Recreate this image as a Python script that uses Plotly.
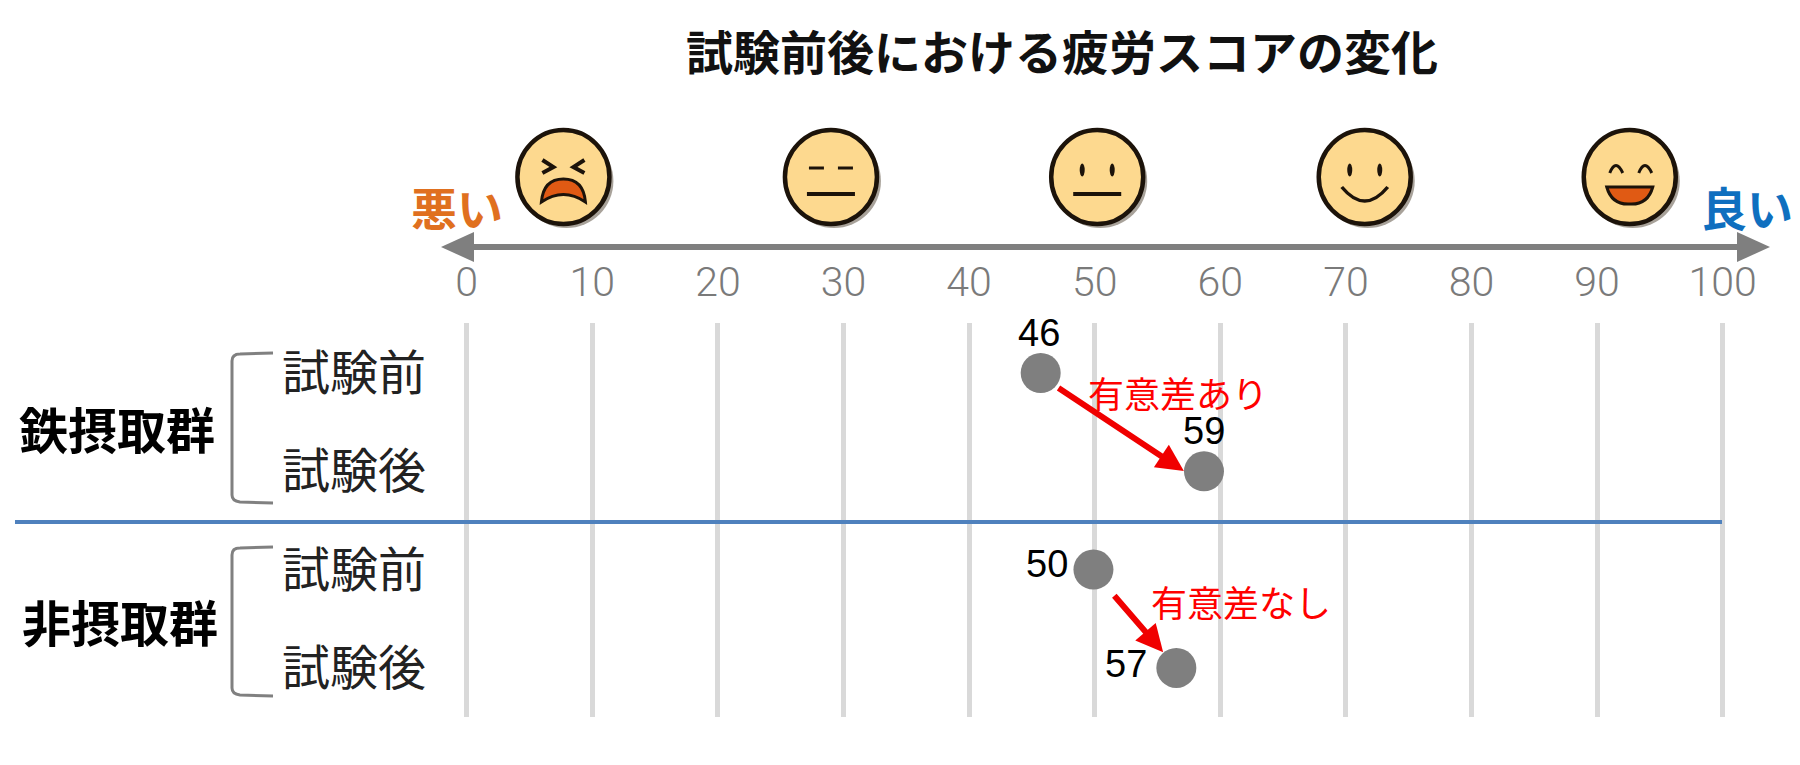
import plotly.graph_objects as go

W, H = 1800, 765
CJK = "Noto Sans CJK JP"

# ---- data ----
title = "試験前後における疲労スコアの変化"
tick_values = [0, 10, 20, 30, 40, 50, 60, 70, 80, 90, 100]
row_labels = ["試験前", "試験後", "試験前", "試験後"]
rows = [0, 1, 2, 3]
scores = [45.7, 58.7, 49.9, 56.5]
score_labels = ["46", "59", "50", "57"]
group_labels = ["鉄摂取群", "非摂取群"]
group_rows = [0.55, 2.52]
sig_labels = ["有意差あり", "有意差なし"]
face_scores = [7.7, 29.0, 50.2, 71.5, 92.6]
face_kinds = ["pain", "flat", "neutral", "smile", "grin"]

# ---- layout geometry ----
X0, PPU = 466.7, 12.56      # pixel of score 0, pixels per score unit
Y0, PPR = 373.0, 98.3       # pixel of row 0, pixels per row
PLOT_TOP, PLOT_BOTTOM = 323, 717
label_offsets = [(-2, 40), (0, 40), (-46, 6), (-50, 4)]


def px_x(v):
    return X0 + v * PPU


def PX(x):
    return x / W


def PY(y):
    return 1 - y / H


def P(x, y):
    return f"{PX(x):.5f},{PY(y):.5f}"


shapes = []


def path(d, fill=None, line=None, width=0):
    shapes.append(dict(type="path", xref="paper", yref="paper", path=d,
                       fillcolor=fill or "rgba(0,0,0,0)",
                       line=dict(color=line or "rgba(0,0,0,0)", width=width)))


def seg(cx, cy, pts, close=False):
    d = "M " + " L ".join(P(cx + a, cy + b) for a, b in pts)
    return d + (" Z" if close else "")


def curve(cx, cy, a, c, b):
    return f"M {P(cx+a[0], cy+a[1])} Q {P(cx+c[0], cy+c[1])} {P(cx+b[0], cy+b[1])}"


def ellipse(cx, cy, rx, ry, fill, line=None, width=0):
    shapes.append(dict(type="circle", xref="paper", yref="paper",
                       x0=PX(cx - rx), x1=PX(cx + rx), y0=PY(cy + ry), y1=PY(cy - ry),
                       fillcolor=fill,
                       line=dict(color=line or "rgba(0,0,0,0)", width=width)))


INK = "#1c130a"
SKIN = "#FDD98F"
ORANGE = "#E05A14"


def face(score, kind):
    cx, cy = px_x(score), 177
    ellipse(cx + 3, cy + 4, 47, 47, "#a8a29a")
    ellipse(cx, cy, 46, 47, SKIN, INK, 4.5)
    if kind == "pain":
        path(seg(cx, cy, [(-21, -17), (-10, -10), (-21, -4)]), line=INK, width=4)
        path(seg(cx, cy, [(21, -17), (10, -10), (21, -4)]), line=INK, width=4)
        d = (f"M {P(cx-22, cy+25)} Q {P(cx-20, cy+2)} {P(cx, cy+2)} "
             f"Q {P(cx+20, cy+2)} {P(cx+22, cy+25)} Q {P(cx, cy+10)} {P(cx-22, cy+25)} Z")
        path(d, fill=ORANGE, line=INK, width=3)
    elif kind == "flat":
        path(seg(cx, cy, [(-22, -9), (-7, -9)]), line=INK, width=3)
        path(seg(cx, cy, [(7, -9), (22, -9)]), line=INK, width=3)
        path(seg(cx, cy, [(-24, 17), (24, 17)]), line=INK, width=4)
    elif kind in ("neutral", "smile"):
        ellipse(cx - 15, cy - 7, 2.5, 6.5, INK)
        ellipse(cx + 15, cy - 7, 2.5, 6.5, INK)
        if kind == "neutral":
            path(seg(cx, cy, [(-24, 17), (24, 17)]), line=INK, width=4)
        else:
            path(curve(cx, cy, (-23, 10), (0, 38), (23, 10)), line=INK, width=3.5)
    else:
        path(curve(cx, cy, (-20, -4), (-14, -19), (-7, -4)), line=INK, width=3)
        path(curve(cx, cy, (9, -4), (15, -19), (22, -4)), line=INK, width=3)
        d = f"M {P(cx-23, cy+10)} L {P(cx+23, cy+10)} Q {P(cx+18, cy+28)} {P(cx, cy+27)} Q {P(cx-18, cy+28)} {P(cx-23, cy+10)} Z"
        path(d, fill=ORANGE, line=INK, width=3)


for s, k in zip(face_scores, face_kinds):
    face(s, k)

# main scale arrow
GREY = "#7f7f7f"
path(seg(0, 0, [(462, 247), (1745, 247)]), line=GREY, width=6)
path(seg(0, 0, [(441, 247), (474, 232), (474, 262)], True), fill=GREY)
path(seg(0, 0, [(1770, 247), (1737, 232), (1737, 262)], True), fill=GREY)

# brackets
for top, bottom in [(353, 503), (547, 696)]:
    d = (f"M {P(273, top)} L {P(240, top+1)} Q {P(232, top+1)} {P(232, top+8)} "
         f"L {P(232, bottom-8)} Q {P(232, bottom-2)} {P(240, bottom-1)} L {P(273, bottom)}")
    path(d, line="#808080", width=3)

# separator
path(seg(0, 0, [(15, 522), (1722, 522)]), line="#4F81BD", width=4)

CENTER = dict(xanchor="center", yanchor="middle", showarrow=False)
annotations = [
    dict(text=title, xref="paper", yref="paper", x=PX(1062), y=PY(50),
         font=dict(family=CJK, size=47, color="#111111", weight="bold"), **CENTER),
    dict(text="悪い", xref="paper", yref="paper", x=PX(457), y=PY(206),
         font=dict(family=CJK, size=46, color="#E0701F", weight="bold"), **CENTER),
    dict(text="良い", xref="paper", yref="paper", x=PX(1747), y=PY(206),
         font=dict(family=CJK, size=46, color="#0F6FBF", weight="bold"), **CENTER),
]
for text, r in zip(row_labels, rows):
    annotations.append(dict(text=text, xref="paper", yref="y", x=PX(354), y=r, yshift=4,
                            font=dict(family=CJK, size=48, color="#222222"), **CENTER))
for text, r, x in zip(group_labels, group_rows, [117, 120]):
    annotations.append(dict(text=text, xref="paper", yref="y", x=PX(x), y=r,
                            font=dict(family=CJK, size=49, color="#000000", weight="bold"), **CENTER))
annotations += [
    dict(text=sig_labels[0], xref="x", yref="y", x=(1178 - X0) / PPU, y=0.19,
         font=dict(family=CJK, size=36, color="#FF0000"), **CENTER),
    dict(text=sig_labels[1], xref="x", yref="y", x=(1241 - X0) / PPU, y=2.32,
         font=dict(family=CJK, size=36, color="#FF0000"), **CENTER),
]
for text, s, r, (dx, dy) in zip(score_labels, scores, rows, label_offsets):
    annotations.append(dict(text=text, xref="x", yref="y", x=s, y=r, xshift=dx, yshift=dy,
                            font=dict(family="Liberation Sans", size=38, color="#000000"), **CENTER))
# red arrows between the paired points
for (ax, ay, x, y) in [(47.0, 0.142, 57.1, 0.997), (51.46, 2.25, 55.45, 2.84)]:
    annotations.append(dict(x=x, y=y, ax=ax, ay=ay, xref="x", yref="y", axref="x", ayref="y",
                            text="", showarrow=True, arrowhead=2, arrowsize=0.9,
                            arrowwidth=6, arrowcolor="#F00000", standoff=0, startstandoff=0))

fig = go.Figure(go.Scatter(
    x=scores, y=rows, mode="markers",
    marker=dict(size=40, color="#7f7f7f", line=dict(width=0)),
    cliponaxis=False, showlegend=False, hoverinfo="skip",
))

fig.update_layout(
    width=W, height=H, margin=dict(l=0, r=0, t=0, b=0),
    paper_bgcolor="white", plot_bgcolor="white", showlegend=False,
    shapes=shapes, annotations=annotations,
    xaxis=dict(range=[-X0 / PPU, (W - X0) / PPU], domain=[0, 1], side="top",
               tickmode="array", tickvals=tick_values,
               ticktext=[str(v) for v in tick_values],
               showgrid=True, gridcolor="#d9d9d9", gridwidth=5, zeroline=False,
               showline=False, ticks="outside", ticklen=10, tickcolor="rgba(0,0,0,0)",
               tickfont=dict(family="Roboto", size=41, color="#7a7a7a", weight=300)),
    yaxis=dict(range=[(PLOT_BOTTOM - Y0) / PPR, (PLOT_TOP - Y0) / PPR],
               domain=[1 - PLOT_BOTTOM / H, 1 - PLOT_TOP / H],
               showgrid=False, zeroline=False, showline=False, showticklabels=False, ticks=""),
)

fig.write_html("out.html", config=dict(displayModeBar=False),
               post_script="document.body.style.margin='0';document.body.style.overflow='hidden';")
